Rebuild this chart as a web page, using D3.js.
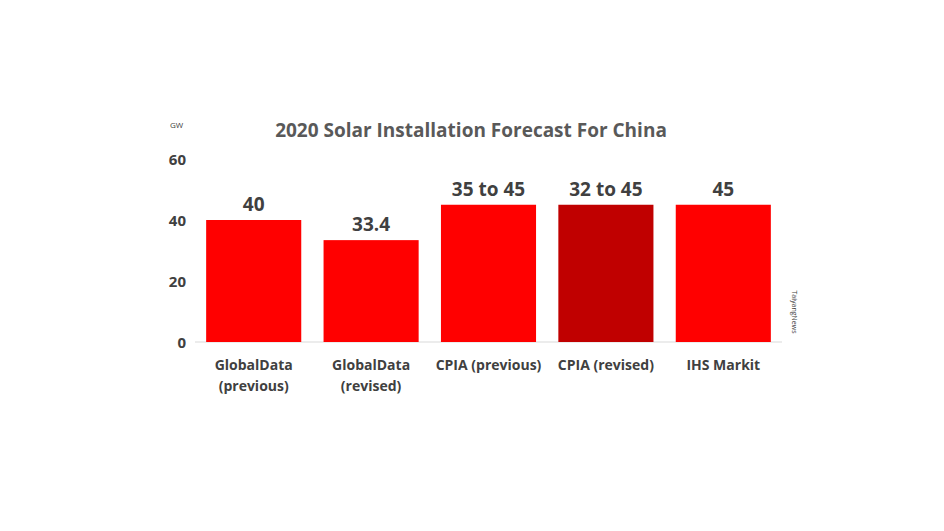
<!DOCTYPE html>
<html><head><meta charset="utf-8">
<script src="https://cdn.jsdelivr.net/npm/d3@7"></script>
<style>body{margin:0;background:#fff}svg{font-family:"Open Sans",sans-serif}</style>
</head><body>
<svg id="c" width="944" height="531"></svg>
<script>
const categories = [["GlobalData","(previous)"],["GlobalData","(revised)"],["CPIA (previous)"],["CPIA (revised)"],["IHS Markit"]];
const values = [40, 33.4, 45, 45, 45];
const valueLabels = ["40","33.4","35 to 45","32 to 45","45"];
const colors = ["#ff0000","#ff0000","#ff0000","#c00000","#ff0000"];
const yTicks = [0,20,40,60];

const svg = d3.select("#c");
const x = d3.scaleBand().domain(d3.range(values.length)).range([195,782]).paddingInner(0.19).paddingOuter(0.095);
const y = d3.scaleLinear().domain([0,60]).range([342,159]);

svg.append("line").attr("x1",195).attr("x2",782).attr("y1",y(0)).attr("y2",y(0)).attr("stroke","#d9d9d9");

svg.selectAll("rect.bar").data(values).join("rect")
  .attr("x",(d,i)=>x(i)).attr("width",x.bandwidth())
  .attr("y",d=>y(d)).attr("height",d=>y(0)-y(d))
  .attr("fill",(d,i)=>colors[i]);

svg.selectAll("text.val").data(values).join("text")
  .attr("x",(d,i)=>x(i)+x.bandwidth()/2).attr("y",d=>y(d)-9)
  .attr("text-anchor","middle").attr("font-size",19).attr("font-weight","bold").attr("fill","#404040")
  .text((d,i)=>valueLabels[i]);

svg.selectAll("text.yt").data(yTicks).join("text")
  .attr("x",186).attr("y",d=>y(d)+6).attr("text-anchor","end")
  .attr("font-size",15).attr("font-weight","bold").attr("fill","#404040").text(d=>d);

categories.forEach((lines,i)=>{
  const t = svg.append("text").attr("text-anchor","middle").attr("font-size",14).attr("font-weight","bold").attr("fill","#404040");
  lines.forEach((l,j)=>t.append("tspan").attr("x",x(i)+x.bandwidth()/2).attr("y",370+j*21).text(l));
});

svg.append("text").attr("x",471).attr("y",137).attr("text-anchor","middle")
  .attr("font-size",19).attr("font-weight","bold").attr("fill","#595959").text("2020 Solar Installation Forecast For China");
svg.append("text").attr("x",170).attr("y",128).attr("font-size",8).attr("fill","#404040").text("GW");
svg.append("text").attr("transform","translate(792,312) rotate(90)").attr("text-anchor","middle")
  .attr("font-size",7).attr("fill","#404040").text("TaiyangNews");
</script></body></html>
